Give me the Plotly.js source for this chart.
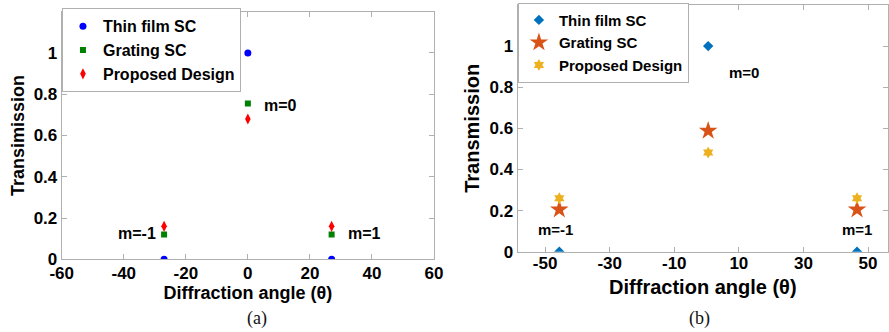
<!DOCTYPE html>
<html><head><meta charset="utf-8">
<script src="https://cdn.plot.ly/plotly-3.0.1.min.js"></script>
<style>html,body{margin:0;padding:0;background:#fff}#c{width:889px;height:332px}</style>
</head><body><div id="c"></div>
<script>
// Panel (a)
const anglesA = [-27, 0, 27];
const thinA = [0, 1, 0];
const gratingA = [0.12, 0.755, 0.12];
const proposedA = [0.16, 0.68, 0.16];
// Panel (b)
const anglesB = [-45.6, 0.5, 46.6];
const thinB = [0, 1, 0];
const gratingB = [0.205, 0.588, 0.205];
const proposedB = [0.26, 0.482, 0.26];
const seriesNames = ['Thin film SC', 'Grating SC', 'Proposed Design'];
const orderLabels = ['m=-1', 'm=0', 'm=1'];
const ticksA = [-60, -40, -20, 0, 20, 40, 60];
const tickTextA = ['-60', '-40', '-20', '0', '20', '40', '60'];
const ticksB = [-50, -30, -10, 10, 30, 50];
const tickTextB = ['-50', '-30', '-10', '10', '30', '50'];
const yTicks = [0, 0.2, 0.4, 0.6, 0.8, 1];
const yTickText = ['0', '0.2', '0.4', '0.6', '0.8', '1'];

const F = 'Arial, "Liberation Sans", sans-serif';
const bf = (size) => ({family: F, size: size, color: '#000', weight: 'bold'});
const B = (arr) => arr.map(s => '<b>' + s + '</b>');
const traces = [
  {x: anglesA, y: thinA, name: seriesNames[0], mode: 'markers', xaxis: 'x', yaxis: 'y', legend: 'legend',
   marker: {symbol: 'circle', size: 7, color: '#0000ff'}},
  {x: anglesA, y: gratingA, name: seriesNames[1], mode: 'markers', xaxis: 'x', yaxis: 'y', legend: 'legend',
   marker: {symbol: 'square', size: 6, color: '#008000'}},
  {x: anglesA, y: proposedA, name: seriesNames[2], mode: 'markers', xaxis: 'x', yaxis: 'y', legend: 'legend',
   marker: {symbol: 'diamond-tall', size: 8, color: '#ff0000'}},
  {x: anglesB, y: thinB, name: seriesNames[0], mode: 'markers', xaxis: 'x2', yaxis: 'y2', legend: 'legend2',
   marker: {symbol: 'diamond', size: 8, color: '#0072BD'}},
  {x: anglesB, y: gratingB, name: seriesNames[1], mode: 'markers', xaxis: 'x2', yaxis: 'y2', legend: 'legend2',
   marker: {symbol: 'star', size: 14, color: '#D95319'}},
  {x: anglesB, y: proposedB, name: seriesNames[2], mode: 'markers', xaxis: 'x2', yaxis: 'y2', legend: 'legend2',
   marker: {symbol: 'hexagram', size: 9, color: '#EDB120'}}
];

const axBase = {showgrid: false, zeroline: false, showline: true, linecolor: '#b0b0b0', linewidth: 1,
  mirror: 'ticks', ticks: 'inside', ticklen: 5, tickcolor: '#b0b0b0', tickmode: 'array',
  tickfont: bf(17)};

const layout = {
  width: 889, height: 332, margin: {l: 0, r: 0, t: 0, b: 0},
  paper_bgcolor: '#fff', plot_bgcolor: '#fff', showlegend: true,
  xaxis: Object.assign({}, axBase, {domain: [0.0694, 0.4882], range: [-60, 60], tickvals: ticksA, ticktext: B(tickTextA), anchor: 'y',
    ticklabelstandoff: -2,
    title: {text: '<b>Diffraction angle (θ)</b>', font: bf(18), standoff: 0}}),
  yaxis: Object.assign({}, axBase, {domain: [0.219, 0.9648], range: [0, 1.2], tickvals: yTicks, ticktext: B(yTickText), anchor: 'x',
    title: {text: '<b>Transimission</b>', font: bf(18), standoff: 4}}),
  xaxis2: Object.assign({}, axBase, {domain: [0.5823, 0.9989], range: [-58.5, 56.2], tickvals: ticksB, ticktext: B(tickTextB), anchor: 'y2',
    ticklabelstandoff: -4,
    title: {text: '<b>Diffraction angle (θ)</b>', font: bf(20), standoff: 7}}),
  yaxis2: Object.assign({}, axBase, {domain: [0.2419, 0.985], range: [0, 1.2], tickvals: yTicks, ticktext: B(yTickText), anchor: 'x2',
    title: {text: '<b>Transmission</b>', font: bf(20), standoff: 4}}),
  legend: {x: 0.0697, y: 0.975, xanchor: 'left', yanchor: 'top', bgcolor: '#fff', bordercolor: '#b0b0b0', borderwidth: 1,
    font: bf(16), itemwidth: 30, tracegroupgap: 0},
  legend2: {x: 0.5826, y: 0.992, xanchor: 'left', yanchor: 'top', bgcolor: '#fff', bordercolor: '#b0b0b0', borderwidth: 1,
    font: bf(15), itemwidth: 30, tracegroupgap: 0},
  annotations: [
    {xref: 'x', yref: 'y', x: anglesA[0], y: 0.127, text: '<b>' + orderLabels[0] + '</b>', showarrow: false, xanchor: 'right', xshift: -6, font: bf(16)},
    {xref: 'x', yref: 'y', x: anglesA[1], y: 0.745, text: '<b>' + orderLabels[1] + '</b>', showarrow: false, xanchor: 'left', xshift: 14, font: bf(16)},
    {xref: 'x', yref: 'y', x: anglesA[2], y: 0.127, text: '<b>' + orderLabels[2] + '</b>', showarrow: false, xanchor: 'left', xshift: 14, font: bf(16)},
    {xref: 'x2', yref: 'y2', x: anglesB[0], y: 0.11, text: '<b>' + orderLabels[0] + '</b>', showarrow: false, xanchor: 'center', xshift: -4, font: bf(15)},
    {xref: 'x2', yref: 'y2', x: anglesB[1], y: 0.87, text: '<b>' + orderLabels[1] + '</b>', showarrow: false, xanchor: 'center', xshift: 36, font: bf(15)},
    {xref: 'x2', yref: 'y2', x: anglesB[2], y: 0.11, text: '<b>' + orderLabels[2] + '</b>', showarrow: false, xanchor: 'center', font: bf(15)},
    {xref: 'paper', yref: 'paper', x: 245/889, y: (332-318)/332, yanchor: 'middle', text: '(a)', showarrow: false, font: {family: '"Liberation Serif", "Times New Roman", serif', size: 18, color: '#111'}},
    {xref: 'paper', yref: 'paper', x: 712/889, y: (332-318)/332, yanchor: 'middle', text: '(b)', showarrow: false, font: {family: '"Liberation Serif", "Times New Roman", serif', size: 18, color: '#111'}}
  ]
};
Plotly.newPlot('c', traces, layout, {staticPlot: true, displayModeBar: false});
</script></body></html>
